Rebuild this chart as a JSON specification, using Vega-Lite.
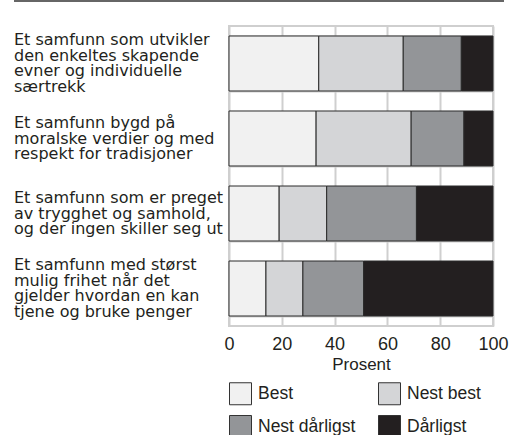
{
  "$schema": "https://vega.github.io/schema/vega-lite/v6.json",
  "padding": {"left": 13, "top": 0, "right": 0, "bottom": 0},
  "config": {"view": {"stroke": null}, "font": "Liberation Sans"},
  "resolve": {"legend": {"color": "independent"}},
  "spacing": 24,
  "bounds": "flush",
  "datasets": {
    "survey": [
      {"statement": "Et samfunn som utvikler|den enkeltes skapende|evner og individuelle|særtrekk", "answer": "Best", "k": 1, "pct": 34},
      {"statement": "Et samfunn som utvikler|den enkeltes skapende|evner og individuelle|særtrekk", "answer": "Nest best", "k": 2, "pct": 32},
      {"statement": "Et samfunn som utvikler|den enkeltes skapende|evner og individuelle|særtrekk", "answer": "Nest dårligst", "k": 3, "pct": 22},
      {"statement": "Et samfunn som utvikler|den enkeltes skapende|evner og individuelle|særtrekk", "answer": "Dårligst", "k": 4, "pct": 12},
      {"statement": "Et samfunn bygd på|moralske verdier og med|respekt for tradisjoner", "answer": "Best", "k": 1, "pct": 33},
      {"statement": "Et samfunn bygd på|moralske verdier og med|respekt for tradisjoner", "answer": "Nest best", "k": 2, "pct": 36},
      {"statement": "Et samfunn bygd på|moralske verdier og med|respekt for tradisjoner", "answer": "Nest dårligst", "k": 3, "pct": 20},
      {"statement": "Et samfunn bygd på|moralske verdier og med|respekt for tradisjoner", "answer": "Dårligst", "k": 4, "pct": 11},
      {"statement": "Et samfunn som er preget|av trygghet og samhold,|og der ingen skiller seg ut", "answer": "Best", "k": 1, "pct": 19},
      {"statement": "Et samfunn som er preget|av trygghet og samhold,|og der ingen skiller seg ut", "answer": "Nest best", "k": 2, "pct": 18},
      {"statement": "Et samfunn som er preget|av trygghet og samhold,|og der ingen skiller seg ut", "answer": "Nest dårligst", "k": 3, "pct": 34},
      {"statement": "Et samfunn som er preget|av trygghet og samhold,|og der ingen skiller seg ut", "answer": "Dårligst", "k": 4, "pct": 29},
      {"statement": "Et samfunn med størst|mulig frihet når det|gjelder hvordan en kan|tjene og bruke penger", "answer": "Best", "k": 1, "pct": 14},
      {"statement": "Et samfunn med størst|mulig frihet når det|gjelder hvordan en kan|tjene og bruke penger", "answer": "Nest best", "k": 2, "pct": 14},
      {"statement": "Et samfunn med størst|mulig frihet når det|gjelder hvordan en kan|tjene og bruke penger", "answer": "Nest dårligst", "k": 3, "pct": 23},
      {"statement": "Et samfunn med størst|mulig frihet når det|gjelder hvordan en kan|tjene og bruke penger", "answer": "Dårligst", "k": 4, "pct": 49}
    ],
    "topline": [{"from": 0, "to": 1}]
  },
  "vconcat": [
    {
      "width": 490,
      "height": 2,
      "data": {"name": "topline"},
      "mark": {"type": "rule", "color": "#333333", "strokeWidth": 1.5},
      "encoding": {
        "x": {"field": "from", "type": "quantitative", "axis": null, "scale": {"domain": [0, 1]}},
        "x2": {"field": "to"}
      }
    },
    {
      "spacing": 0,
      "bounds": "flush",
      "resolve": {"legend": {"color": "independent"}},
      "hconcat": [
        {
          "width": 215,
          "height": 300,
          "data": {"name": "survey"},
          "transform": [{"filter": "datum.k == 1"}],
          "mark": {
            "type": "text",
            "align": "left",
            "baseline": "middle",
            "lineBreak": "|",
            "font": "DejaVu Sans",
            "fontSize": 16,
            "lineHeight": 15.5,
            "color": "#231f20",
            "dy": {"expr": "-(length(split(datum.statement, '|')) - 1) * 7.75"}
          },
          "encoding": {
            "y": {
              "field": "statement",
              "type": "nominal",
              "sort": null,
              "axis": null,
              "scale": {"paddingInner": 0.2667, "paddingOuter": 0.1333}
            },
            "x": {"value": 0},
            "text": {"field": "statement"}
          }
        },
        {
          "width": 264,
          "height": 300,
          "view": {"stroke": "#cfcfcf", "strokeWidth": 2},
          "data": {"name": "survey"},
          "mark": {"type": "bar", "stroke": "#2b2b2b", "strokeWidth": 1},
          "encoding": {
            "y": {
              "field": "statement",
              "type": "nominal",
              "sort": null,
              "scale": {"paddingInner": 0.2667, "paddingOuter": 0.1333},
              "axis": {
                "title": null,
                "labels": false,
                "ticks": false,
                "domain": false,
                "grid": true,
                "tickBand": "extent",
                "gridColor": "#cfcfcf",
                "gridWidth": 2,
                "minExtent": 0,
                "maxExtent": 0
              }
            },
            "x": {
              "field": "pct",
              "type": "quantitative",
              "stack": "zero",
              "scale": {"domain": [0, 100]},
              "axis": {
                "title": "Prosent",
                "values": [0, 20, 40, 60, 80, 100],
                "grid": true,
                "ticks": false,
                "domain": false,
                "labelFlush": false,
                "gridColor": "#cfcfcf",
                "gridWidth": 2,
                "labelFontSize": 18,
                "labelPadding": 9,
                "labelColor": "#231f20",
                "titleFontSize": 17,
                "titleFontWeight": "normal",
                "titleColor": "#231f20",
                "titlePadding": 3
              }
            },
            "color": {
              "field": "answer",
              "type": "nominal",
              "scale": {
                "domain": ["Best", "Nest best", "Nest dårligst", "Dårligst"],
                "range": ["#f1f1f1", "#d4d5d7", "#939598", "#231f20"]
              },
              "legend": {
                "orient": "bottom",
                "direction": "horizontal",
                "columns": 2,
                "title": null,
                "symbolType": "square",
                "symbolSize": 484,
                "symbolStrokeColor": "#333333",
                "symbolStrokeWidth": 1,
                "labelFontSize": 17.5,
                "labelColor": "#231f20",
                "columnPadding": 20,
                "rowPadding": 6,
                "labelOffset": 6,
                "offset": 10
              }
            },
            "order": {"field": "k"}
          }
        }
      ]
    }
  ]
}
